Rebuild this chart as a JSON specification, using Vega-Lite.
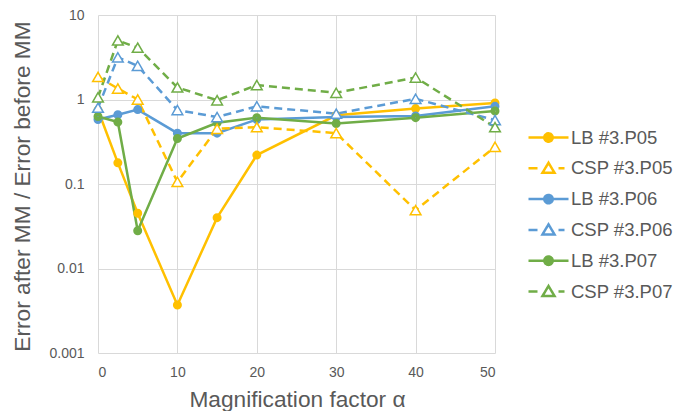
{
  "$schema": "https://vega.github.io/schema/vega-lite/v6.json",
  "width": 397,
  "height": 338,
  "autosize": {"type": "none"},
  "padding": {"left": 98, "top": 15, "right": 183, "bottom": 58},
  "background": "white",
  "config": {
    "view": {"stroke": null},
    "font": "Liberation Sans",
    "axis": {"gridColor": "#D9D9D9", "gridWidth": 1, "domain": false, "ticks": false, "labelColor": "#595959", "titleColor": "#595959", "labelFont": "Liberation Sans", "titleFont": "Liberation Sans", "titleFontWeight": "normal"},
    "legend": {"labelFont": "Liberation Sans", "labelColor": "#595959"}
  },
  "data": {"values": [
    {"series": "LB #3.P05", "alpha": 0, "ratio": 0.75},
    {"series": "LB #3.P05", "alpha": 2.5, "ratio": 0.178},
    {"series": "LB #3.P05", "alpha": 5, "ratio": 0.045},
    {"series": "LB #3.P05", "alpha": 10, "ratio": 0.0037},
    {"series": "LB #3.P05", "alpha": 15, "ratio": 0.04},
    {"series": "LB #3.P05", "alpha": 20, "ratio": 0.22},
    {"series": "LB #3.P05", "alpha": 30, "ratio": 0.65},
    {"series": "LB #3.P05", "alpha": 40, "ratio": 0.78},
    {"series": "LB #3.P05", "alpha": 50, "ratio": 0.91},
    {"series": "CSP #3.P05", "alpha": 0, "ratio": 1.85},
    {"series": "CSP #3.P05", "alpha": 2.5, "ratio": 1.35},
    {"series": "CSP #3.P05", "alpha": 5, "ratio": 1.0},
    {"series": "CSP #3.P05", "alpha": 10, "ratio": 0.106},
    {"series": "CSP #3.P05", "alpha": 15, "ratio": 0.45},
    {"series": "CSP #3.P05", "alpha": 20, "ratio": 0.47},
    {"series": "CSP #3.P05", "alpha": 30, "ratio": 0.4},
    {"series": "CSP #3.P05", "alpha": 40, "ratio": 0.049},
    {"series": "CSP #3.P05", "alpha": 50, "ratio": 0.275},
    {"series": "LB #3.P06", "alpha": 0, "ratio": 0.58},
    {"series": "LB #3.P06", "alpha": 2.5, "ratio": 0.66},
    {"series": "LB #3.P06", "alpha": 5, "ratio": 0.76},
    {"series": "LB #3.P06", "alpha": 10, "ratio": 0.4},
    {"series": "LB #3.P06", "alpha": 15, "ratio": 0.4},
    {"series": "LB #3.P06", "alpha": 20, "ratio": 0.58},
    {"series": "LB #3.P06", "alpha": 30, "ratio": 0.62},
    {"series": "LB #3.P06", "alpha": 40, "ratio": 0.64},
    {"series": "LB #3.P06", "alpha": 50, "ratio": 0.83},
    {"series": "CSP #3.P06", "alpha": 0, "ratio": 0.8},
    {"series": "CSP #3.P06", "alpha": 2.5, "ratio": 3.15},
    {"series": "CSP #3.P06", "alpha": 5, "ratio": 2.5},
    {"series": "CSP #3.P06", "alpha": 10, "ratio": 0.75},
    {"series": "CSP #3.P06", "alpha": 15, "ratio": 0.62},
    {"series": "CSP #3.P06", "alpha": 20, "ratio": 0.83},
    {"series": "CSP #3.P06", "alpha": 30, "ratio": 0.68},
    {"series": "CSP #3.P06", "alpha": 40, "ratio": 1.02},
    {"series": "CSP #3.P06", "alpha": 50, "ratio": 0.57},
    {"series": "LB #3.P07", "alpha": 0, "ratio": 0.63},
    {"series": "LB #3.P07", "alpha": 2.5, "ratio": 0.54},
    {"series": "LB #3.P07", "alpha": 5, "ratio": 0.028},
    {"series": "LB #3.P07", "alpha": 10, "ratio": 0.345},
    {"series": "LB #3.P07", "alpha": 15, "ratio": 0.53},
    {"series": "LB #3.P07", "alpha": 20, "ratio": 0.61},
    {"series": "LB #3.P07", "alpha": 30, "ratio": 0.52},
    {"series": "LB #3.P07", "alpha": 40, "ratio": 0.61},
    {"series": "LB #3.P07", "alpha": 50, "ratio": 0.73},
    {"series": "CSP #3.P07", "alpha": 0, "ratio": 1.06},
    {"series": "CSP #3.P07", "alpha": 2.5, "ratio": 5.0},
    {"series": "CSP #3.P07", "alpha": 5, "ratio": 4.1},
    {"series": "CSP #3.P07", "alpha": 10, "ratio": 1.39},
    {"series": "CSP #3.P07", "alpha": 15, "ratio": 0.98},
    {"series": "CSP #3.P07", "alpha": 20, "ratio": 1.48},
    {"series": "CSP #3.P07", "alpha": 30, "ratio": 1.2},
    {"series": "CSP #3.P07", "alpha": 40, "ratio": 1.82},
    {"series": "CSP #3.P07", "alpha": 50, "ratio": 0.47}
  ]},
  "encoding": {
    "x": {"field": "alpha", "type": "quantitative",
      "scale": {"domain": [0, 50], "nice": false, "zero": false},
      "axis": {"values": [0, 10, 20, 30, 40, 50], "title": "Magnification factor α", "labelFontSize": 14, "labelPadding": 12, "titleFontSize": 22.7, "titleX": 199, "titleY": 53, "titleBaseline": "alphabetic", "titleAnchor": null}},
    "y": {"field": "ratio", "type": "quantitative",
      "scale": {"type": "log", "domain": [0.001, 10], "nice": false},
      "axis": {"values": [0.001, 0.01, 0.1, 1, 10], "format": "~g", "title": "Error after MM / Error before MM", "labelFontSize": 14, "labelPadding": 14, "titleFontSize": 22.7, "titleX": -69, "titleY": 171, "titleBaseline": "alphabetic", "titleAngle": 270, "titleAlign": "center"}},
    "color": {"field": "series", "type": "nominal",
      "scale": {"domain": ["LB #3.P05", "CSP #3.P05", "LB #3.P06", "CSP #3.P06", "LB #3.P07", "CSP #3.P07"],
        "range": ["#FFC000", "#FFC000", "#5B9BD5", "#5B9BD5", "#70AD47", "#70AD47"]},
      "legend": {"title": null, "orient": "none", "legendX": 439, "legendY": 111, "padding": 0,
        "labelFontSize": 18.5, "labelOffset": 11, "rowPadding": 9.8, "symbolSize": 400, "symbolStrokeWidth": 2.5,
        "encode": {"symbols": {"update": {
          "shape": {"signal": "test(/CSP/, datum.value) ? 'M-2,0H-1.1M1.0,0H1.6M0,-0.55L0.6,0.45L-0.6,0.45Z' : 'M-2,0H2M0.42,0A0.42,0.42 0 1,1 -0.42,0A0.42,0.42 0 1,1 0.42,0Z'"},
          "fill": {"signal": "test(/CSP/, datum.value) ? 'white' : scale('color', datum.value)"},
          "stroke": {"signal": "scale('color', datum.value)"},
          "strokeDash": {"value": [1, 0]},
          "strokeWidth": {"value": 2.5},
          "size": {"value": 400},
          "opacity": {"value": 1}
        }}}}
    }
  },
  "layer": [
    {
      "transform": [{"filter": "test(/^LB/, datum.series)"}],
      "mark": {"type": "line", "strokeWidth": 2.5}
    },
    {
      "transform": [{"filter": "test(/^CSP/, datum.series)"}],
      "mark": {"type": "line", "strokeWidth": 2.5, "strokeDash": [8, 5]}
    },
    {
      "transform": [{"filter": "test(/^LB/, datum.series)"}],
      "mark": {"type": "point", "shape": "circle", "filled": false, "size": 16, "strokeWidth": 5, "opacity": 1}
    },
    {
      "transform": [{"filter": "test(/^CSP/, datum.series)"}],
      "mark": {"type": "point", "shape": "triangle-up", "filled": false, "fill": "white", "fillOpacity": 1, "size": 115, "strokeWidth": 1.5, "opacity": 1}
    }
  ]
}
